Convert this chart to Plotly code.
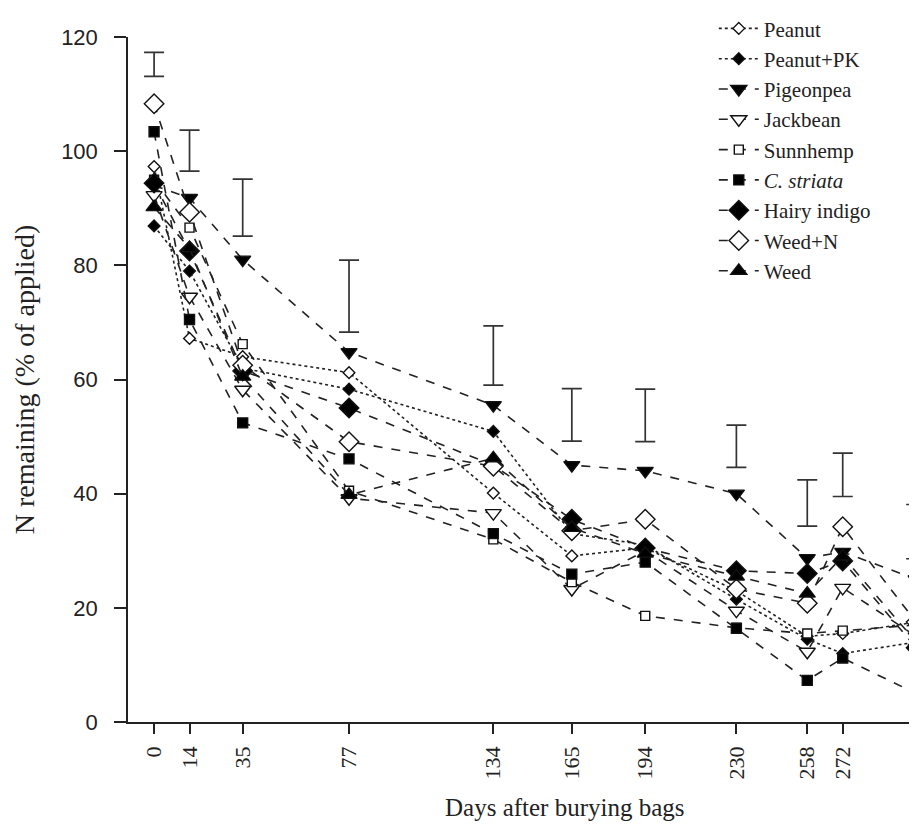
import plotly.graph_objects as go

days = [0, 14, 35, 77, 134, 165, 194, 230, 258, 272, 301]
tick_labels = ["0", "14", "35", "77", "134", "165", "194", "230", "258", "272", "301"]

peanut       = [97.3, 67.2, 64.0, 61.2, 40.1, 29.1, 30.5, 23.0, 15.0, 15.5, 17.5]
peanut_pk    = [86.9, 79.0, 62.0, 58.3, 50.9, 33.0, 31.0, 21.5, 14.5, 12.0, 14.0]
pigeonpea    = [94.0, 91.8, 81.0, 64.8, 55.5, 45.0, 44.0, 40.0, 28.7, 29.8, 25.0]
jackbean     = [92.3, 74.5, 58.2, 39.2, 36.6, 23.3, 30.0, 19.5, 12.3, 23.5, 15.0]
sunnhemp     = [95.0, 86.6, 66.2, 40.5, 32.0, 24.5, 18.6, 16.5, 15.5, 16.0, 17.0]
c_striata    = [103.4, 70.5, 52.4, 46.1, 33.0, 25.9, 28.0, 16.4, 7.3, 11.2, 5.0]
hairy_indigo = [94.4, 82.5, 61.5, 55.0, 45.0, 35.5, 30.5, 26.5, 26.0, 28.2, 13.0]
weed_n       = [108.3, 89.3, 62.5, 49.1, 44.8, 33.5, 35.5, 23.3, 20.8, 34.2, 17.5]
weed         = [90.2, 83.0, 60.5, 39.8, 46.2, 34.0, 29.5, 25.5, 22.5, 29.0, 14.0]

# LSD bars (top / bottom of each bar)
lsd_top    = [117.3, 103.7, 95.1, 80.9, 69.4, 58.4, 58.3, 52.0, 42.4, 47.1, 38.1]
lsd_bottom = [113.1, 96.5, 85.1, 68.3, 59.0, 49.2, 49.1, 44.6, 34.3, 39.5, 28.6]

series = [
    ("Peanut", peanut, "dot", "diamond", "white", 9),
    ("Peanut+PK", peanut_pk, "dot", "diamond", "black", 9),
    ("Pigeonpea", pigeonpea, "dash", "triangle-down", "black", 14),
    ("Jackbean", jackbean, "dash", "triangle-down", "white", 14),
    ("Sunnhemp", sunnhemp, "dash", "square", "white", 9),
    ("<i>C. striata</i>", c_striata, "dash", "square", "black", 10),
    ("Hairy indigo", hairy_indigo, "dash", "diamond", "black", 15),
    ("Weed+N", weed_n, "dash", "diamond", "white", 15),
    ("Weed", weed, "dash", "triangle-up", "black", 14),
]

fig = go.Figure()

fig.add_trace(go.Scatter(
    x=days, y=lsd_bottom, mode="markers",
    marker=dict(size=1, color="rgba(0,0,0,0)"),
    error_y=dict(type="data", symmetric=False,
                 array=[t - b for t, b in zip(lsd_top, lsd_bottom)],
                 arrayminus=[0] * len(days),
                 color="#333", thickness=1.7, width=10),
    showlegend=False, hoverinfo="skip", cliponaxis=False,
))

for name, vals, dash, sym, fill, size in series:
    fig.add_trace(go.Scatter(
        x=days, y=vals, name=name, mode="lines+markers",
        line=dict(color="#222", width=1.6, dash=dash),
        marker=dict(symbol=sym, size=size, color=fill,
                    line=dict(color="#111", width=1.4)),
        cliponaxis=False,
    ))

serif = "Liberation Serif"
sans = "Liberation Sans"

fig.update_layout(
    width=917, height=826,
    margin=dict(l=120, r=0, t=25, b=112),
    plot_bgcolor="white", paper_bgcolor="white",
    font=dict(family=serif, color="#222"),
    xaxis=dict(
        range=[-10.3, 304.5], tickmode="array", tickvals=days, ticktext=tick_labels,
        tickangle=-90, ticks="outside", ticklen=10, tickwidth=1.5, tickcolor="#222",
        showline=True, linecolor="#222", linewidth=1.5, showgrid=False, zeroline=False,
        tickfont=dict(family=serif, size=22, color="#222"),
        ticklabelstandoff=4,
    ),
    yaxis=dict(
        range=[0, 120], tickvals=[0, 20, 40, 60, 80, 100, 120],
        ticks="outside", ticklen=12, tickwidth=1.5, tickcolor="#222",
        showline=True, linecolor="#222", linewidth=1.5, showgrid=False, zeroline=False,
        tickfont=dict(family=sans, size=22, color="#222"),
        ticklabelstandoff=12,
        title=dict(text="N remaining (% of applied)", font=dict(family=serif, size=28), standoff=18),
    ),
    legend=dict(
        x=0.735, y=1.042, xanchor="left", yanchor="top",
        bgcolor="rgba(0,0,0,0)", font=dict(family=serif, size=21, color="#222"),
        tracegroupgap=0, itemwidth=40,
    ),
    annotations=[dict(
        text="Days after burying bags", xref="paper", yref="paper",
        x=0.548, y=-0.125, xanchor="center", yanchor="middle", showarrow=False,
        font=dict(family=serif, size=25, color="#222"),
    )],
)

fig.write_html("out.html")
